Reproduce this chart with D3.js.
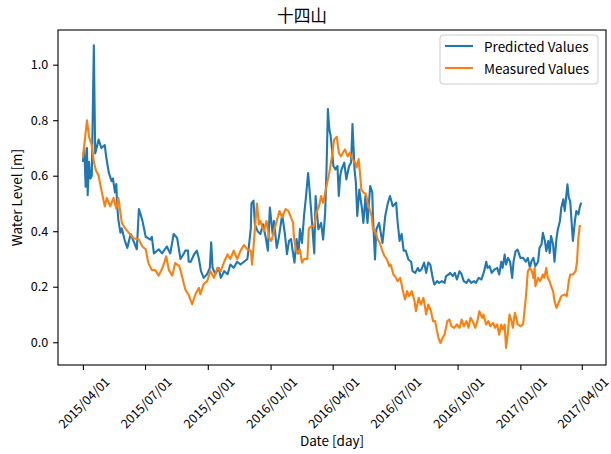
<!DOCTYPE html>
<html>
<head>
<meta charset="utf-8">
<script src="https://cdn.jsdelivr.net/npm/d3@7"></script>
<style>
  body { margin: 0; background: #fff; }
  text { font-family: "Noto Sans CJK SC", "Noto Sans", sans-serif; fill: #000; }
</style>
</head>
<body>
<svg width="611" height="454"></svg>
<script>
const title = "十四山";
const startDate = "2015/04/01";
const tickLabels = ["2015/04/01", "2015/07/01", "2015/10/01", "2016/01/01", "2016/04/01",
  "2016/07/01", "2016/10/01", "2017/01/01", "2017/04/01"];
const yTicks = [0.0, 0.2, 0.4, 0.6, 0.8, 1.0];
const seriesNames = ["Predicted Values", "Measured Values"];

// days after 2015/04/01
const predictedDays = [0,2,4,6,7,9,11,13,16,18,23,27,32,34,38,42,44,47,49,50,52,55,57,61,65,70,74,79,82,84,87,92,99,101,104,111,116,123,128,133,138,143,148,150,154,155,158,163,167,170,173,177,182,186,188,190,194,199,202,207,212,216,221,226,231,236,241,243,246,247,250,252,256,260,264,268,271,274,278,280,284,287,292,296,299,302,305,307,310,313,316,318,321,324,327,330,332,335,339,341,345,349,352,355,357,359,361,363,365,367,370,373,375,377,379,383,386,390,393,395,398,400,402,405,409,411,414,417,421,424,425,428,430,434,439,443,447,450,454,459,461,464,467,470,473,477,481,483,487,491,493,496,500,503,506,509,513,515,519,522,526,530,532,536,538,542,545,548,552,555,558,562,565,569,573,576,580,584,588,591,593,596,599,603,607,610,613,615,618,620,623,626,629,631,634,637,641,645,649,652,655,657,660,663,667,669,672,674,677,679,682,684,686,689,691,694,696,699,701,704,706,708,710,712,714,716,718,721,723,726,728,730];
const predictedValues = [0.65,0.70,0.56,0.70,0.53,0.65,0.59,0.60,1.07,0.68,0.73,0.70,0.71,0.67,0.61,0.58,0.59,0.54,0.57,0.50,0.44,0.395,0.41,0.37,0.34,0.39,0.365,0.335,0.48,0.465,0.44,0.38,0.37,0.38,0.32,0.335,0.32,0.345,0.32,0.39,0.376,0.30,0.32,0.33,0.33,0.29,0.29,0.317,0.33,0.30,0.256,0.232,0.245,0.268,0.36,0.268,0.245,0.268,0.232,0.256,0.245,0.28,0.268,0.29,0.28,0.29,0.30,0.34,0.41,0.50,0.51,0.425,0.40,0.39,0.425,0.376,0.33,0.485,0.39,0.437,0.34,0.376,0.46,0.39,0.317,0.365,0.372,0.335,0.287,0.372,0.32,0.408,0.358,0.455,0.527,0.61,0.552,0.455,0.32,0.527,0.407,0.43,0.37,0.467,0.625,0.84,0.768,0.744,0.695,0.635,0.623,0.635,0.527,0.60,0.623,0.647,0.587,0.635,0.647,0.786,0.623,0.575,0.455,0.55,0.48,0.43,0.527,0.43,0.563,0.54,0.455,0.298,0.407,0.43,0.358,0.455,0.503,0.527,0.49,0.503,0.437,0.365,0.39,0.33,0.33,0.298,0.29,0.256,0.25,0.268,0.256,0.262,0.287,0.25,0.287,0.28,0.226,0.208,0.22,0.214,0.22,0.214,0.238,0.244,0.25,0.238,0.25,0.226,0.256,0.244,0.22,0.214,0.226,0.214,0.22,0.214,0.232,0.226,0.256,0.29,0.268,0.274,0.25,0.262,0.268,0.244,0.29,0.268,0.316,0.28,0.304,0.29,0.232,0.29,0.328,0.334,0.304,0.304,0.29,0.304,0.268,0.29,0.304,0.274,0.29,0.34,0.352,0.394,0.365,0.328,0.365,0.322,0.383,0.352,0.29,0.376,0.407,0.437,0.485,0.515,0.473,0.52,0.569,0.52,0.509,0.437,0.365,0.437,0.473,0.461,0.485,0.503];

const measuredDays = [0,6,9,13,16,19,23,27,32,35,40,45,49,52,57,62,67,74,82,87,92,96,101,106,111,115,119,122,126,131,135,141,144,148,150,155,160,165,170,172,177,182,187,192,197,202,207,212,216,221,226,231,236,241,246,248,251,255,258,260,265,269,273,276,280,284,288,292,297,301,304,308,309,312,314,318,321,324,329,331,335,339,342,346,349,352,355,358,361,365,368,372,375,378,381,384,388,391,395,399,401,404,406,408,411,415,417,420,423,425,429,432,435,438,442,445,449,451,455,459,461,465,469,472,475,478,482,486,488,492,495,499,503,506,510,513,516,519,521,524,527,530,534,537,540,544,548,552,555,558,562,565,568,571,575,578,581,585,587,591,594,597,601,604,607,610,613,615,618,620,623,625,628,630,633,635,637,641,645,649,652,655,658,660,662,663,667,670,674,676,679,681,684,686,689,691,694,696,699,701,706,709,712,714,718,722,724,726,728,730];
const measuredValues = [0.665,0.80,0.74,0.71,0.65,0.62,0.60,0.55,0.49,0.52,0.49,0.52,0.48,0.52,0.43,0.41,0.395,0.375,0.37,0.345,0.335,0.285,0.26,0.26,0.24,0.26,0.285,0.31,0.26,0.24,0.285,0.275,0.25,0.21,0.19,0.17,0.137,0.173,0.196,0.173,0.21,0.22,0.256,0.232,0.268,0.256,0.29,0.317,0.30,0.33,0.30,0.33,0.35,0.335,0.33,0.28,0.376,0.50,0.425,0.437,0.40,0.437,0.376,0.365,0.40,0.437,0.473,0.45,0.48,0.473,0.455,0.43,0.383,0.335,0.32,0.335,0.287,0.30,0.30,0.41,0.419,0.419,0.467,0.49,0.527,0.503,0.539,0.575,0.61,0.67,0.73,0.74,0.683,0.67,0.683,0.695,0.67,0.683,0.66,0.647,0.63,0.66,0.61,0.55,0.54,0.533,0.503,0.48,0.455,0.407,0.395,0.37,0.358,0.335,0.31,0.30,0.274,0.28,0.244,0.232,0.22,0.232,0.184,0.154,0.184,0.166,0.184,0.148,0.112,0.16,0.136,0.16,0.10,0.136,0.112,0.076,0.076,0.04,0.016,-0.003,0.016,0.028,0.076,0.082,0.058,0.052,0.064,0.052,0.082,0.058,0.076,0.052,0.088,0.076,0.052,0.076,0.112,0.088,0.10,0.064,0.076,0.058,0.07,0.052,0.064,0.028,0.064,0.046,0.064,-0.02,0.04,0.10,0.076,0.052,0.106,0.088,0.064,0.058,0.064,0.16,0.256,0.268,0.256,0.232,0.268,0.202,0.232,0.22,0.244,0.232,0.268,0.232,0.22,0.202,0.184,0.148,0.124,0.136,0.154,0.166,0.172,0.166,0.22,0.244,0.244,0.256,0.29,0.376,0.419,0.419];

const width = 611;
const height = 454;
const marginTop = 30;
const marginBottom = 89;
const marginLeft = 58;
const marginRight = 5;
const fontSize = 13.5;
const tickFont = 12.6;
const tickLen = 4.9;
const colors = ["#1f77b4", "#ff7f0e"];

const parse = d3.utcParse("%Y/%m/%d");
const t0 = parse(startDate);
const dayMs = 864e5;
const toDate = (d) => new Date(+t0 + d * dayMs);

const lastDay = d3.max(predictedDays.concat(measuredDays));
const pad = lastDay * 0.05;

const svg = d3.select("svg");

const x = d3.scaleUtc(
  [toDate(-pad), toDate(lastDay + pad)],
  [marginLeft, width - marginRight]
);
const y = d3.scaleLinear([-0.082, 1.125], [height - marginBottom, marginTop]);

// lines
const line = d3.line().x((d) => x(toDate(d[0]))).y((d) => y(d[1]));
const predicted = predictedDays.map((d, i) => [d, predictedValues[i]]);
const measured = measuredDays.map((d, i) => [d, measuredValues[i]]);

svg.append("path")
  .datum(predicted)
  .attr("fill", "none")
  .attr("stroke", colors[0])
  .attr("stroke-width", 2.1)
  .attr("stroke-linejoin", "round")
  .attr("d", line);

svg.append("path")
  .datum(measured)
  .attr("fill", "none")
  .attr("stroke", colors[1])
  .attr("stroke-width", 2.1)
  .attr("stroke-linejoin", "round")
  .attr("d", line);

// x axis
const xAxis = svg.append("g")
  .attr("transform", `translate(0,${height - marginBottom})`)
  .call(d3.axisBottom(x)
    .tickValues(tickLabels.map(parse))
    .tickFormat((d, i) => tickLabels[i])
    .tickSize(tickLen)
    .tickSizeOuter(0));
xAxis.select(".domain").remove();
xAxis.selectAll(".tick line").attr("stroke", "#000").attr("stroke-width", 1.1);
xAxis.selectAll(".tick text")
  .attr("font-size", tickFont)
  .attr("text-anchor", "middle")
  .attr("dominant-baseline", "central")
  .attr("dy", null)
  .attr("y", null)
  .each(function () {
    const w = this.getComputedTextLength();
    const h = tickFont * 1.1;
    const H = (w + h) * Math.SQRT1_2;
    d3.select(this).attr("transform", `translate(0,${tickLen + 4 + H / 2}) rotate(-45)`);
  });

// y axis
const yAxis = svg.append("g")
  .attr("transform", `translate(${marginLeft},0)`)
  .call(d3.axisLeft(y)
    .tickValues(yTicks)
    .tickFormat(d3.format(".1f"))
    .tickSize(tickLen)
    .tickPadding(4.9)
    .tickSizeOuter(0));
yAxis.select(".domain").remove();
yAxis.selectAll(".tick line").attr("stroke", "#000").attr("stroke-width", 1.1);
yAxis.selectAll(".tick text").attr("font-size", tickFont);

// frame
svg.append("rect")
  .attr("x", marginLeft)
  .attr("y", marginTop)
  .attr("width", width - marginLeft - marginRight)
  .attr("height", height - marginTop - marginBottom)
  .attr("fill", "none")
  .attr("stroke", "#000")
  .attr("stroke-width", 1.1);

// title and axis labels
svg.append("text")
  .attr("x", 302)
  .attr("y", 15)
  .attr("text-anchor", "middle")
  .attr("dominant-baseline", "central")
  .attr("font-size", 16.7)
  .text(title);

svg.append("text")
  .attr("x", (marginLeft + width - marginRight) / 2)
  .attr("y", 440)
  .attr("text-anchor", "middle")
  .attr("dominant-baseline", "central")
  .attr("font-size", fontSize)
  .text("Date [day]");

svg.append("text")
  .attr("transform", `translate(16,${(marginTop + height - marginBottom) / 2}) rotate(-90)`)
  .attr("text-anchor", "middle")
  .attr("dominant-baseline", "central")
  .attr("font-size", fontSize)
  .text("Water Level [m]");

// legend
const legend = svg.append("g").attr("transform", "translate(440,35)");
legend.append("rect")
  .attr("width", 158)
  .attr("height", 49)
  .attr("rx", 3)
  .attr("fill", "#fff")
  .attr("fill-opacity", 0.8)
  .attr("stroke", "#ccc");
seriesNames.forEach((name, i) => {
  const cy = 11 + i * 22;
  legend.append("line")
    .attr("x1", 5).attr("x2", 33)
    .attr("y1", cy).attr("y2", cy)
    .attr("stroke", colors[i])
    .attr("stroke-width", 2.1);
  legend.append("text")
    .attr("x", 44)
    .attr("y", cy)
    .attr("dominant-baseline", "central")
    .attr("font-size", fontSize)
    .text(name);
});
</script>
</body>
</html>
